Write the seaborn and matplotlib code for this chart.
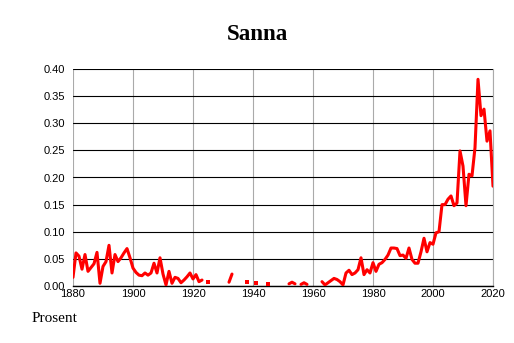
import numpy as np
import pandas as pd
import matplotlib
matplotlib.use("Agg")
import matplotlib.pyplot as plt
from matplotlib.ticker import MultipleLocator
import seaborn as sns

# yearly share (percent), NaN where the name was not recorded
years = list(range(1880, 2021))
early = [0.016, 0.061, 0.055, 0.031, 0.058, 0.027, 0.034, 0.041, 0.062, 0.005,
         0.036, 0.045, 0.075, 0.024, 0.058, 0.045, 0.052, 0.061, 0.069, 0.052,
         0.033, 0.025, 0.020, 0.019, 0.024, 0.020, 0.024, 0.042, 0.024, 0.052,
         0.022, 0.002, 0.027, 0.005, 0.016, 0.014, 0.006, 0.011, 0.017, 0.024,
         0.013, 0.021, 0.008, 0.011]                       # 1880-1923
sparse = {1925: 0.008, 1932: 0.007, 1933: 0.022, 1938: 0.008, 1941: 0.005,
          1945: 0.004, 1952: 0.004, 1953: 0.007, 1954: 0.004,
          1956: 0.003, 1957: 0.006, 1958: 0.003}
late = [0.008, 0.002, 0.006, 0.010, 0.014, 0.012, 0.008, 0.002, 0.024, 0.029,
        0.021, 0.024, 0.030, 0.052, 0.021, 0.030, 0.024, 0.043, 0.027, 0.040,
        0.043, 0.049, 0.057, 0.070, 0.070, 0.069, 0.056, 0.057, 0.051, 0.070,
        0.049, 0.042, 0.042, 0.063, 0.088, 0.063, 0.080, 0.077, 0.098, 0.100,
        0.150, 0.150, 0.160, 0.166, 0.148, 0.153, 0.249, 0.221, 0.148, 0.206,
        0.203, 0.255, 0.381, 0.314, 0.326, 0.267, 0.286, 0.184]  # 1963-2020

values = {y: np.nan for y in years}
for i, v in enumerate(early):
    values[1880 + i] = v
values.update(sparse)
for i, v in enumerate(late):
    values[1963 + i] = v

df = pd.DataFrame({"year": years, "share": [values[y] for y in years]})
df["seg"] = df["share"].isna().cumsum()
df = df.dropna()
counts = df.groupby("seg")["year"].transform("size")
lines = df[counts > 1]
dots = df[counts == 1]

sns.set_style("white")
fig = plt.figure(figsize=(5.14, 3.43), dpi=100)
ax = fig.add_axes([73 / 514, 1 - 286 / 343, 420 / 514, 217 / 343])

sns.lineplot(data=lines, x="year", y="share", units="seg", estimator=None,
             color="red", linewidth=2.2, ax=ax, zorder=3)
sns.scatterplot(data=dots, x="year", y="share", marker="s", s=8, color="red",
                linewidth=0, ax=ax, zorder=3)

ax.set_xlim(1880, 2020)
ax.set_ylim(0, 0.40)
ax.xaxis.set_major_locator(MultipleLocator(20))
ax.xaxis.set_minor_locator(MultipleLocator(5))
ax.yaxis.set_major_locator(MultipleLocator(0.05))
ax.yaxis.set_major_formatter(matplotlib.ticker.FormatStrFormatter("%.2f"))
ax.grid(axis="y", color="black", linewidth=0.8)
ax.grid(axis="x", which="major", color="#aaaaaa", linewidth=0.8)
ax.set_axisbelow(True)
for s in ["top", "left"]:
    ax.spines[s].set_visible(False)
ax.spines["right"].set_color("#aaaaaa")
ax.spines["right"].set_linewidth(0.8)
ax.spines["bottom"].set_color("black")
ax.spines["bottom"].set_linewidth(1.0)
ax.tick_params(axis="x", which="both", direction="in", length=3, color="#888888",
               labelsize=8, pad=2, labelcolor="black")
ax.tick_params(axis="y", length=0, labelsize=8, pad=6, labelcolor="black")
ax.set_xlabel("")
ax.set_ylabel("")
for lab in ax.get_xticklabels():
    lab.set_fontfamily("Liberation Sans")
for lab in ax.get_yticklabels():
    lab.set_fontfamily("Liberation Sans")
ax.get_xticklabels()[-1].set_horizontalalignment("right")

fig.text(0.5, 1 - 35 / 343, "Sanna", ha="center", va="center", color="black",
         fontfamily="Liberation Serif", fontweight="bold", fontsize=16.5)
fig.text(32 / 514, 1 - 318 / 343, "Prosent", ha="left", va="center",
         color="black", fontfamily="Liberation Serif", fontsize=11)

fig.savefig("out.png", dpi=100, facecolor="white")
